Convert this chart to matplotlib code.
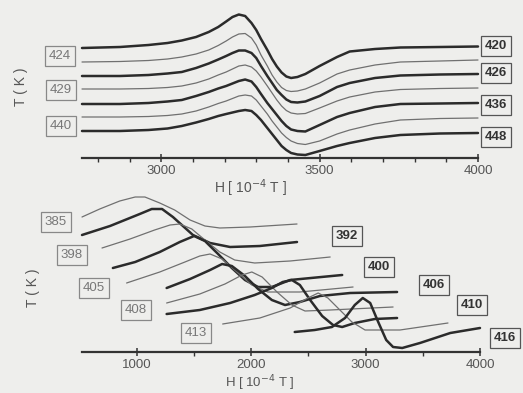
import matplotlib
matplotlib.use("Agg")
import matplotlib.pyplot as plt
from matplotlib.ticker import MultipleLocator, FixedLocator

plt.rcParams['font.family'] = ['Liberation Sans', 'DejaVu Sans']

# ---------------- top panel data (field in 1e-4 T, signal arbitrary) -------------
top_field = [2750, 2870, 2960, 3020, 3065, 3110, 3150, 3180, 3205, 3225, 3245, 3265,
             3285, 3300, 3315, 3335, 3350, 3365, 3380, 3395, 3410, 3430, 3455, 3500,
             3555, 3595, 3675, 3755, 3880, 4000]
s420 = [0, 1, 3, 5, 7.5, 11, 16, 21, 26.5, 31, 33.5, 32, 25, 18, 9, -2, -11, -18.5,
        -24.5, -28.5, -30, -29, -26, -18, -9, -3.5, -1, 0.5, 1, 1.5]
s424 = [0, 0.5, 1.5, 3, 5, 8, 12, 16.5, 21, 25, 28, 28.5, 24, 17, 7, -4, -13, -20,
        -25.5, -28.5, -29.5, -29, -27, -21, -12, -8, -3, 0, 1, 2]
s426 = [0, 0, 1, 2.5, 4, 8, 12.5, 16.5, 20, 23, 25.5, 25.5, 23, 18, 10, 0, -7, -14,
        -19, -23.5, -26, -26.5, -25.5, -20, -11, -7, -2, 0.5, 1.5, 2]
s429 = [0, 0, 0.5, 1.5, 3, 6, 10, 14, 17, 20, 23, 24, 22, 18, 12, 3, -4, -11,
        -17, -21.5, -24, -25, -24.5, -19, -12, -8, -3, -0.5, 0.5, 1]
s436 = [0, 0, 1, 2.5, 4, 8, 12, 15.5, 18, 20.5, 23, 24.5, 22.5, 17, 10, 1, -5, -11,
        -17, -22, -25.5, -27, -27.5, -21, -13, -9, -3, 0, 0.5, 1]
s440 = [0, 0, 0.5, 1.5, 3, 6, 10, 13.5, 16, 18.5, 21, 22, 21, 17, 11, 3, -4, -10,
        -16, -20.5, -24, -26.5, -27.5, -24, -17, -13, -7, -3, -1.5, -1]
s448 = [0, 0, 1, 2.5, 5, 8.5, 12, 15, 17, 18.5, 20, 21, 20, 16, 11, 3, -3, -9,
        -15, -19, -22, -23.5, -24, -20, -15, -12, -7, -4, -2.5, -2]
top_temps = [420, 424, 426, 429, 436, 440, 448]
top_signals = [s420, s424, s426, s429, s436, s440, s448]
top_offsets = [110, 96, 82, 69, 54, 41, 27]

# ---------------- bottom panel data (waterfall) ----------------
f385 = [520, 675, 850, 985, 1070, 1200, 1330, 1465, 1595, 1725, 1990, 2400]
s385 = [0, 8, 16, 20, 20, 14, 7, -3, -9, -11, -10, -7]
f392 = [520, 765, 1025, 1130, 1220, 1315, 1490, 1640, 1815, 2075, 2400]
s392 = [0, 9, 21, 26, 26, 18, 0, -8, -12, -11, -7]
f398 = [695, 940, 1155, 1290, 1375, 1480, 1595, 1725, 1855, 2030, 2340, 2690]
s398 = [0, 9, 18, 23, 24, 19, 8, -4, -12, -15, -13, -9]
f400 = [790, 985, 1200, 1375, 1500, 1595, 1710, 1830, 1945, 2060, 2180, 2340, 2795]
s400 = [0, 6, 16, 26, 32, 27, 14, 0, -12, -19, -19, -12, -7]
f405 = [910, 1200, 1420, 1550, 1640, 1745, 1875, 2005, 2145, 2425, 2890]
s405 = [0, 11, 21, 27, 29, 24, 11, -2, -9, -9, -4]
f406 = [1260, 1465, 1640, 1745, 1830, 1945, 2060, 2180, 2295, 2425, 2600, 2865, 3275]
s406 = [0, 9, 18, 24, 22, 12, -1, -12, -17, -14, -8, -5, -4]
f408 = [1260, 1550, 1770, 1920, 2005, 2095, 2225, 2355, 2470, 2690, 3240]
s408 = [0, 9, 19, 28, 31, 26, 11, -2, -8, -7, -4]
f410 = [1260, 1550, 1815, 2030, 2180, 2275, 2355, 2425, 2515, 2620, 2715, 2795, 2905,
        3080, 3275]
s410 = [0, 4, 11, 19, 26, 32, 34, 29, 14, -2, -11, -13, -9, -5, -4]
f413 = [1750, 2075, 2340, 2495, 2585, 2670, 2775, 2880, 2995, 3300, 3720]
s413 = [0, 6, 16, 26, 31, 26, 14, 2, -6, -6, 1]
f416 = [2380, 2555, 2705, 2820, 2905, 2975, 3040, 3110, 3180, 3240, 3320, 3475, 3740, 4000]
s416 = [0, 2, 5, 14, 27, 34, 29, 10, -8, -15, -16, -11, -1, 4]
bot_temps = [385, 392, 398, 400, 405, 406, 408, 410, 413, 416]
bot_fields = [f385, f392, f398, f400, f405, f406, f408, f410, f413, f416]
bot_signals = [s385, s392, s398, s400, s405, s406, s408, s410, s413, s416]
bot_offsets = [135, 117, 104, 84, 69, 64, 49, 38, 28, 20]

# ---------------- figure ----------------
W, H = 523, 393
BG = '#eeeeec'
fig = plt.figure(figsize=(W / 100, H / 100), dpi=100, facecolor=BG)

def px(x, y):
    return x / W, 1 - y / H

def make_axes(x0, x1, ytop, yaxis):
    ax = fig.add_axes([x0 / W, 1 - yaxis / H, (x1 - x0) / W, (yaxis - ytop) / H])
    ax.set_facecolor('none')
    for s in ('top', 'right', 'left'):
        ax.spines[s].set_visible(False)
    ax.spines['bottom'].set_color('#333333')
    ax.spines['bottom'].set_linewidth(1.6)
    ax.set_yticks([])
    ax.tick_params(axis='x', which='major', direction='inout', length=6, width=1.1,
                   color='#333333', labelsize=9.5, labelcolor='#555555', pad=2)
    ax.tick_params(axis='x', which='minor', direction='out', length=3, width=1.0,
                   color='#333333')
    return ax

THICK = dict(color='#2b2b2b', lw=1.8, solid_joinstyle='round', solid_capstyle='round')
THIN = dict(color='#707070', lw=0.9, solid_joinstyle='round', solid_capstyle='round')

# top panel
ax1 = make_axes(82, 478, 5, 158)
ax1.set_xlim(2750, 4000)
ax1.set_ylim(0, 153)
ax1.xaxis.set_major_locator(FixedLocator([3000, 3500, 4000]))
ax1.xaxis.set_minor_locator(MultipleLocator(100))
for i, (sig, off) in enumerate(zip(top_signals, top_offsets)):
    style = THICK if i % 2 == 0 else THIN
    ax1.plot(top_field, [off + v for v in sig], clip_on=False, **style)

# bottom panel
ax2 = make_axes(82, 480, 185, 352)
ax2.set_xlim(520, 4000)
ax2.set_ylim(0, 167)
ax2.xaxis.set_major_locator(FixedLocator([1000, 2000, 3000, 4000]))
ax2.xaxis.set_minor_locator(FixedLocator([1500, 2500, 3500]))
for i, (fld, sig, off) in enumerate(zip(bot_fields, bot_signals, bot_offsets)):
    style = THIN if i % 2 == 0 else THICK
    ax2.plot(fld, [off + v for v in sig], clip_on=False, **style)

# text labels
def box_label(x, y, txt, dark):
    fig.text(*px(x, y), txt, ha='center', va='center', fontsize=9.5,
             color='#333333' if dark else '#777777',
             fontweight='bold' if dark else 'normal',
             bbox=dict(boxstyle='square,pad=0.3', fc=BG,
                       ec='#555555' if dark else '#888888', lw=0.9))

for (x, y, t) in [(60, 56, '424'), (61, 90, '429'), (61, 126, '440')]:
    box_label(x, y, t, False)
for (x, y, t) in [(496, 46, '420'), (496, 73, '426'), (496, 105, '436'), (496, 137, '448')]:
    box_label(x, y, t, True)
for (x, y, t) in [(56, 222, '385'), (72, 255, '398'), (94, 288, '405'),
                  (136, 310, '408'), (196, 333, '413')]:
    box_label(x, y, t, False)
for (x, y, t) in [(347, 236, '392'), (379, 267, '400'), (434, 285, '406'),
                  (472, 305, '410'), (505, 338, '416')]:
    box_label(x, y, t, True)

xlab = 'H [ 10$^{-4}$ T ]'
fig.text(*px(250, 188), xlab, ha='center', va='center', fontsize=10, color='#555555')
fig.text(*px(260, 383), xlab, ha='center', va='center', fontsize=9.5, color='#555555')
fig.text(*px(21, 87), 'T ( K )', ha='center', va='center', rotation=90,
         fontsize=10, color='#555555')
fig.text(*px(33, 288), 'T ( K )', ha='center', va='center', rotation=90,
         fontsize=10, color='#555555')

fig.savefig('out.png', dpi=100, facecolor=BG)
